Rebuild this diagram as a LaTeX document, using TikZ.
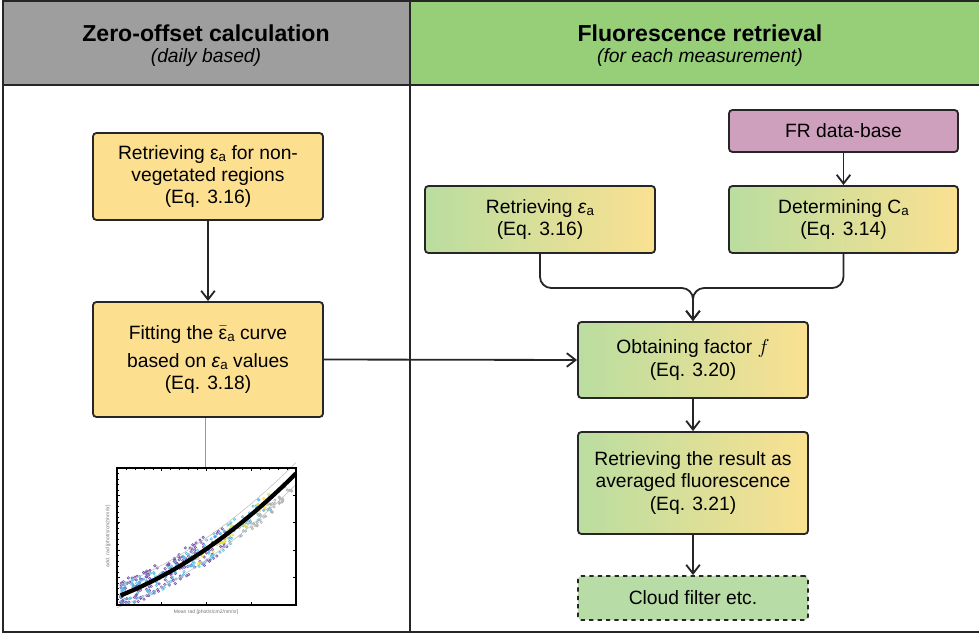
\documentclass[tikz,border=0pt]{standalone}
\usepackage{fontspec}
\setmainfont{Liberation Sans}
\usetikzlibrary{arrows.meta}

\definecolor{headgray}{RGB}{158,158,158}
\definecolor{headgreen}{RGB}{151,207,120}
\definecolor{boxyellow}{RGB}{253,224,143}
\definecolor{gradgreen}{RGB}{186,221,160}
\definecolor{gradyellow}{RGB}{250,225,145}
\definecolor{boxpink}{RGB}{207,160,190}
\definecolor{cloudgreen}{RGB}{184,220,165}
\definecolor{ptpurple}{RGB}{120,85,175}
\definecolor{ptcyan}{RGB}{95,190,230}
\definecolor{ptyellow}{RGB}{232,222,70}

\newcommand{\bodyfont}{\fontsize{13.7}{15.8}\selectfont}
\newcommand{\headfont}{\fontsize{16.4}{19}\selectfont\bfseries}
\newcommand{\lowsub}[1]{\raisebox{-0.25ex}{\fontsize{9.5}{10}\selectfont #1}}

\tikzset{
	box/.style={draw=black!85, line width=1.3pt, rounded corners=2.5pt, align=center, minimum width=5.75cm, font=\bodyfont},
	ybox/.style={box, fill=boxyellow},
	gbox/.style={box, left color=gradgreen, right color=gradyellow},
	link/.style={line width=1.3pt, draw=black!85, -{Straight Barb[length=2.2mm,width=3.4mm]}},
	frame/.style={line width=1.3pt, draw=black!85},
	dot/.style={line width=0.45pt}
}

\begin{document}
\begin{tikzpicture}[x=0.025cm,y=-0.025cm]
	\useasboundingbox (0,0) rectangle (979,635);
	\fill[headgray] (3,1) rectangle (410,85);
	\fill[headgreen] (410,1) rectangle (980,85);
	\draw[frame] (3,1) rectangle (980,632) (3,85) -- (980,85) (410,1) -- (410,632);
	\node[font=\headfont] (zerohead) at (206,33) {Zero-offset calculation};
	\node[font=\bodyfont\itshape] (zerosub) at (206,58) {(daily based)};
	\node[font=\headfont] (fluohead) at (700,33) {Fluorescence retrieval};
	\node[font=\bodyfont\itshape] (fluosub) at (700,58) {(for each measurement)};

	\node[ybox, minimum height=2.175cm] (retnonveg) at (208,176.5) {Retrieving ε\lowsub{a} for non-\\vegetated regions\\(Eq. 3.16)};
	\node[ybox, minimum height=2.875cm] (fitcurve) at (208,359.5) {Fitting the $\bar{\mbox{ε}}$\lowsub{a} curve\\[4pt]based on \textit{ε}\lowsub{a} values\\(Eq. 3.18)};
	\draw[link] (retnonveg) -- (fitcurve);

	\node[box, fill=boxpink, minimum width=5.725cm, minimum height=1.05cm] (frbase) at (843.5,131) {FR data-base};
	\node[gbox, minimum height=1.675cm] (reteps) at (540,219.5) {Retrieving \textit{ε}\lowsub{a}\\(Eq. 3.16)};
	\node[gbox, minimum width=5.725cm, minimum height=1.675cm] (detca) at (843.5,219.5) {Determining C\lowsub{a}\\(Eq. 3.14)};
	\node[gbox, minimum height=1.9cm] (factor) at (693,360) {Obtaining factor $f$\\(Eq. 3.20)};
	\node[gbox, minimum height=2.55cm] (result) at (693,483) {Retrieving the result as\\averaged fluorescence\\(Eq. 3.21)};
	\node[box, dashed, fill=cloudgreen, minimum height=1.1cm] (cloud) at (693,598) {Cloud filter etc.};
	\coordinate (merge) at (693,288);

	\draw[link] (frbase) -- (detca);
	\draw[link, rounded corners=8] (reteps.south) |- (merge) -- (factor.north);
	\draw[link, rounded corners=8] (detca.south) |- (merge) -- (factor.north);
	\draw[link] (fitcurve.east) -- (factor.west);
	\draw[link] (factor) -- (result);
	\draw[link] (result) -- (cloud);

	% small scatter plot of the fit
	\coordinate (plottop) at (205,468);
	\draw[black!40, line width=0.6pt] (fitcurve.south -| plottop) -- (plottop);
	\pgfmathsetseed{11}
	\foreach \i in {1,...,170}
	{
	\pgfmathsetmacro{\px}{0.02+0.6*rnd^1.2}
	\pgfmathsetmacro{\py}{max(0.02,0.06+0.5*\px+0.4*\px*\px+0.11*rand)}
	\draw[dot, ptpurple] ({117+179*\px},{605-137*\py}) circle (1.2);
	}
	\foreach \i in {1,...,170}
	{
	\pgfmathsetmacro{\px}{0.02+0.85*rnd^1.3}
	\pgfmathsetmacro{\py}{max(0.02,0.05+0.5*\px+0.4*\px*\px+0.09*rand)}
	\draw[dot, ptcyan] ({117+179*\px},{605-137*\py}) circle (1.2);
	}
	\foreach \i in {1,...,40}
	{
	\pgfmathsetmacro{\px}{0.45+0.4*rnd}
	\pgfmathsetmacro{\py}{0.05+0.5*\px+0.4*\px*\px+0.06*rand}
	\draw[dot, ptyellow] ({117+179*\px},{605-137*\py}) circle (1.2);
	}
	\foreach \i in {1,...,45}
	{
	\pgfmathsetmacro{\px}{0.68+0.3*rnd}
	\pgfmathsetmacro{\py}{-0.01+0.5*\px+0.4*\px*\px+0.05*rand}
	\draw[dot, black!30] ({117+179*\px},{605-137*\py}) circle (1.2);
	}
	\draw[black!25, line width=0.4pt, domain=0:1, samples=20] plot ({117+179*\x},{605-137*(0.14+0.5*\x+0.4*\x*\x)});
	\draw[black!25, line width=0.4pt, domain=0:1, samples=20] plot ({117+179*\x},{605-137*(-0.02+0.5*\x+0.4*\x*\x)});
	\draw[black, line width=3pt, domain=0.02:1, samples=25] plot ({117+179*\x},{605-137*(0.06+0.5*\x+0.4*\x*\x)});
	\foreach \i in {0,...,20}
	{
	\draw[line width=0.4pt] ({117+8.95*\i},605) -- ({117+8.95*\i},603.5) ({117+8.95*\i},468) -- ({117+8.95*\i},469.5);
	}
	\foreach \i in {0,...,4}
	{
	\draw[line width=0.5pt] ({117+44.75*\i},605) -- ({117+44.75*\i},602) ({117+44.75*\i},468) -- ({117+44.75*\i},471);
	}
	\foreach \j in {0,...,25}
	{
	\draw[line width=0.4pt] (117,{605-5.48*\j}) -- (118.5,{605-5.48*\j}) (296,{605-5.48*\j}) -- (294.5,{605-5.48*\j});
	}
	\foreach \j in {0,...,5}
	{
	\draw[line width=0.5pt] (117,{605-27.4*\j}) -- (120,{605-27.4*\j}) (296,{605-27.4*\j}) -- (293,{605-27.4*\j});
	}
	\draw[line width=0.8pt] (117,468) rectangle (296,605);
	\node[black!55, font=\fontsize{3.6}{4}\selectfont] (xlab) at (206,612) {Mean rad [phot/s/cm2/nm/sr]};
	\node[black!55, font=\fontsize{3.6}{4}\selectfont, rotate=90] (ylab) at (108,536) {add. rad [phot/s/cm2/nm/sr]};
\end{tikzpicture}
\end{document}
